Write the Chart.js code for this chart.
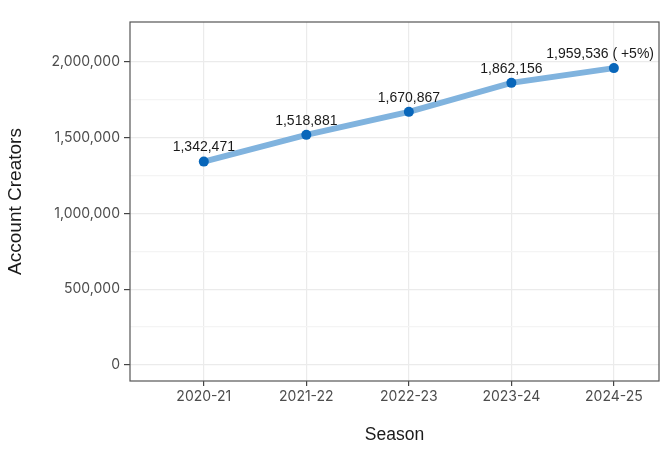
<!DOCTYPE html>
<html>
<head>
<meta charset="utf-8">
<script src="https://cdn.jsdelivr.net/npm/chart.js@4.4.1/dist/chart.umd.min.js"></script>
<style>
  html, body { margin: 0; padding: 0; background: #fff; }
  #wrap { width: 668px; height: 453px; }
</style>
</head>
<body>
<div id="wrap"><canvas id="chart"></canvas></div>
<script>
// Account creators per season
const seasons = ["2020-21", "2021-22", "2022-23", "2023-24", "2024-25"];
const creators = [1342471, 1518881, 1670867, 1862156, 1959536];
const pointLabels = ["1,342,471", "1,518,881", "1,670,867", "1,862,156", "1,959,536 ( +5%)"];
const yTicks = [0, 250000, 500000, 750000, 1000000, 1250000, 1500000, 1750000, 2000000];

const tickFont = { family: "Inter", size: 14 };
const isMajor = (v) => v % 500000 === 0;

// panel border like ggplot theme_bw
const panelBorder = {
  id: "panelBorder",
  afterDraw(chart) {
    const { ctx, chartArea: a } = chart;
    ctx.save();
    ctx.strokeStyle = "#555";
    ctx.lineWidth = 1.2;
    ctx.strokeRect(a.left, a.top, a.right - a.left, a.bottom - a.top);
    ctx.restore();
  },
};

// value labels above each point
const valueLabels = {
  id: "valueLabels",
  afterDatasetsDraw(chart) {
    const { ctx, chartArea: a } = chart;
    const meta = chart.getDatasetMeta(0);
    ctx.save();
    ctx.font = "14px 'Liberation Sans', Arial, sans-serif";
    ctx.fillStyle = "#1a1a1a";
    ctx.textBaseline = "middle";
    ctx.textAlign = "center";
    meta.data.forEach((pt, i) => {
      const txt = pointLabels[i];
      const w = ctx.measureText(txt).width;
      let x = pt.x;
      if (x + w / 2 > a.right - 5) x = a.right - 5 - w / 2;
      ctx.fillText(txt, x, pt.y - 14);
    });
    ctx.restore();
  },
};

new Chart(document.getElementById("chart"), {
  type: "line",
  data: {
    datasets: [
      {
        data: creators.map((v, i) => ({ x: i, y: v })),
        borderColor: "#80b3de",
        borderWidth: 6,
        pointBackgroundColor: "#0866ba",
        pointBorderColor: "#0866ba",
        pointRadius: 5,
        pointBorderWidth: 0,
        tension: 0,
        fill: false,
      },
    ],
  },
  options: {
    responsive: true,
    maintainAspectRatio: false,
    animation: false,
    layout: { padding: { top: 22, right: 9, left: 0, bottom: 0 } },
    plugins: { legend: { display: false }, tooltip: { enabled: false } },
    scales: {
      x: {
        type: "linear",
        min: -0.72,
        max: 4.44,
        afterBuildTicks: (s) => { s.ticks = seasons.map((_, i) => ({ value: i })); },
        afterFit: (s) => { s.height = 72; },
        ticks: {
          color: "#4d4d4d",
          font: tickFont,
          padding: 2,
          maxRotation: 0,
          callback: (v) => seasons[v] ?? "",
        },
        grid: { color: "#ebebeb", lineWidth: 1.2, tickLength: 5, tickColor: "#444", drawTicks: true },
        border: { display: false },
        title: {
          display: true,
          text: "Season",
          color: "#1a1a1a",
          font: { family: "Liberation Sans", size: 17.5 },
          padding: { top: 0, bottom: 7 },
        },
      },
      y: {
        min: -106000,
        max: 2264000,
        afterBuildTicks: (s) => { s.ticks = yTicks.map((v) => ({ value: v })); },
        afterFit: (s) => { s.width = 130; },
        ticks: {
          color: "#4d4d4d",
          font: tickFont,
          padding: 4,
          callback: (v) => (isMajor(v) ? v.toLocaleString("en-US") : ""),
        },
        grid: {
          color: (c) => (isMajor(c.tick.value) ? "#ebebeb" : "#f4f4f4"),
          lineWidth: 1.2,
          tickLength: 6,
          tickColor: (c) => (isMajor(c.tick.value) ? "#444" : "rgba(0,0,0,0)"),
        },
        border: { display: false },
        title: {
          display: true,
          text: "Account Creators",
          color: "#1a1a1a",
          font: { family: "Liberation Sans", size: 19 },
          padding: { top: 4, bottom: 0 },
        },
      },
    },
  },
  plugins: [panelBorder, valueLabels],
});
</script>
</body>
</html>
